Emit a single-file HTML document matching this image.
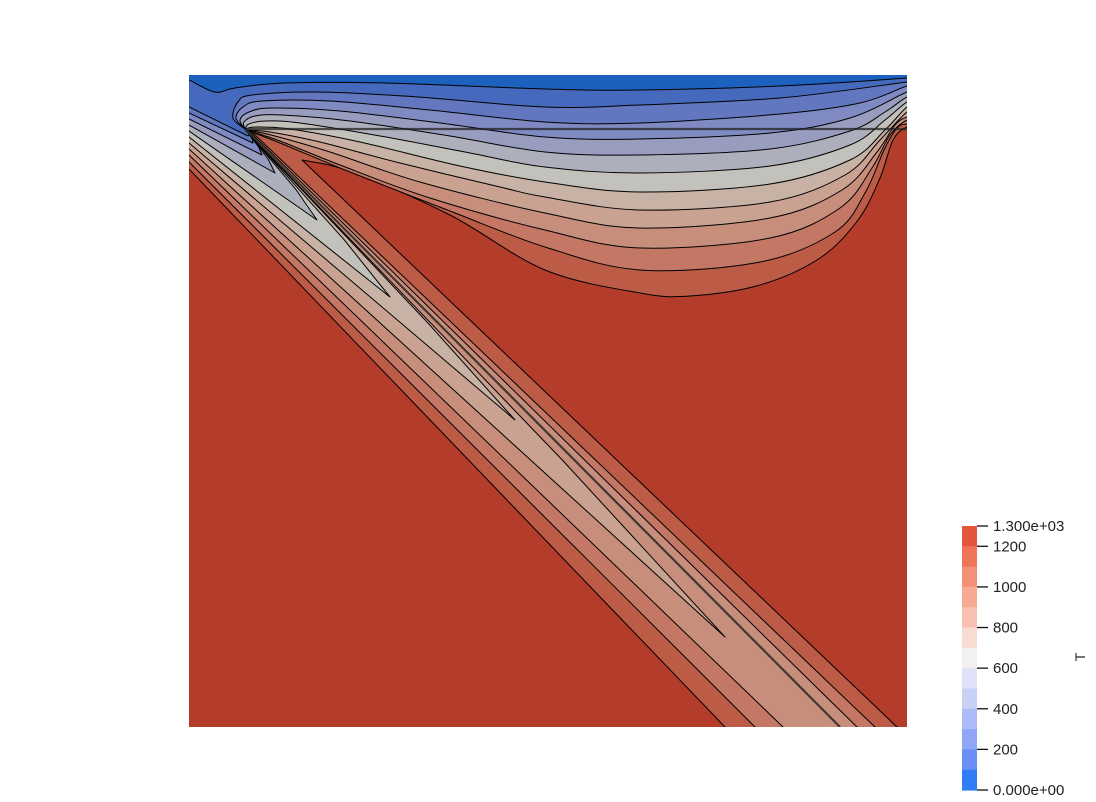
<!DOCTYPE html>
<html><head><meta charset="utf-8"><style>
html,body{margin:0;padding:0;background:#fff;}
svg{display:block;font-family:"Liberation Sans",sans-serif;}
</style></head><body>
<svg id="chart" width="1096" height="802" viewBox="0 0 1096 802">
<defs><clipPath id="plotclip"><rect x="189" y="75" width="718" height="652"/></clipPath></defs>
<rect x="189" y="75" width="718" height="652" fill="#b33c2a"/>
<g id="bands" clip-path="url(#plotclip)"></g>
<g id="lines" clip-path="url(#plotclip)">
<line x1="245" y1="129" x2="907" y2="129" stroke="#222" stroke-opacity="0.75" stroke-width="2.2"/>
<line x1="245" y1="129" x2="840" y2="727" stroke="#222" stroke-opacity="0.8" stroke-width="2.2"/>
</g>
<g id="colorbar"></g>
<text x="0" y="0" transform="translate(1085,657) rotate(-90)" font-size="14" fill="#222" text-anchor="middle">T</text>
</svg>
<script>
const bandColors=["#1b61bd","#4569bd","#6277bf","#7e8ac1","#989dc0","#aeafbd","#c3c1bb","#c8b2a6","#c9a292","#c78e7c","#c37764","#bc5c46","#b33c2a"];
const leftEdgeY=[null,null,107,113,119,125,131,137,143,149,155,162,169];
const fingerTips={2:[248,136],3:[253,143],4:[262,155],5:[275,173],6:[317,220],7:[390,297],8:[515,420],9:[725,637]};
const bottomLeftX={10:783,11:755,12:725};
const bottomRightX={10:857,11:875,12:897};
const rightTop={10:[249,131],11:[252,132],12:[302,160]};
const bowl={
1:[[180,78],[189,80],[215,92],[235,88],[285,83],[385,83],[545,89],[640,90],[780,86],[907,78],[920,76]],
2:[[245,129],[233,118],[238,102],[252,95],[318,92],[418,97],[545,107],[640,105],[780,98],[907,82],[920,81]],
3:[[245,129],[236,118],[243,107],[262,101],[330,101],[430,110],[545,122],[640,123],[780,114],[860,103],[907,86],[920,85]],
4:[[245,129],[240,120],[249,112],[272,108],[340,111],[440,123],[545,137],[640,139],[770,133],[850,118],[907,92],[920,90]],
5:[[245,129],[244,122],[255,116],[282,115],[350,121],[450,136],[545,152],[640,155],[770,149],[850,131],[885,112],[907,97],[920,95]],
6:[[245,129],[249,124],[265,121],[300,123],[380,136],[470,153],[545,167],[640,173],[770,166],[850,145],[885,120],[907,102],[920,100]],
7:[[245,129],[256,127],[290,129],[360,142],[460,166],[545,182],[640,192],[770,184],[850,160],[885,130],[907,107],[920,105]],
8:[[246,130],[270,132],[320,142],[400,163],[500,187],[545,197],[640,210],[770,202],[845,175],[880,140],[907,112],[920,110]],
9:[[247,130],[275,136],[330,152],[420,182],[545,213],[640,228],[770,218],[842,190],[877,152],[895,125],[907,117],[920,115]],
10:[[249,131],[280,141],[340,165],[430,198],[545,230],[640,248],[770,238],[840,208],[872,168],[890,135],[907,120],[920,119]],
11:[[252,132],[285,145],[350,172],[450,211],[545,247],[640,270],[760,262],[835,232],[865,193],[884,150],[897,128],[907,124],[920,123]],
12:[[302,160],[352,172],[450,215],[545,270],[640,293],[690,296],[760,285],[820,258],[858,220],[880,178],[893,140],[907,127],[920,126]]
};
const cbColors=["#e4553c","#ef7459","#f4907a","#f7a994","#f8c0b0","#f7dcd3","#f2f0f0","#dfe2f8","#c8d0f6","#adbcf8","#90a6f7","#6b8ff8","#2f7ef7"];
const cbTickValues=[1300,1200,1000,800,600,400,200,0];
const cbTickLabels=["1.300e+03","1200","1000","800","600","400","200","0.000e+00"];

const NS="http://www.w3.org/2000/svg";
function smooth(p){
  let s="";
  for(let i=0;i<p.length-1;i++){
    const p0=p[Math.max(0,i-1)],p1=p[i],p2=p[i+1],p3=p[Math.min(p.length-1,i+2)];
    const c1=[p1[0]+(p2[0]-p0[0])/6,p1[1]+(p2[1]-p0[1])/6];
    const c2=[p2[0]-(p3[0]-p1[0])/6,p2[1]-(p3[1]-p1[1])/6];
    s+=" C"+c1[0].toFixed(1)+","+c1[1].toFixed(1)+" "+c2[0].toFixed(1)+","+c2[1].toFixed(1)+" "+p2[0]+","+p2[1];
  }
  return s;
}
function lineX(y){return 245+(y-129)*0.995;}
const gB=document.getElementById("bands");
for(let k=12;k>=1;k--){
  let d="";
  if(k===1){
    d="M175,60 L175,78 L180,78"+smooth(bowl[1]);
  } else {
    const L=leftEdgeY[k];
    d="M175,"+(L-13)+" L189,"+L;
    if(k>=10){
      const xb=bottomLeftX[k],xr=bottomRightX[k],rt=rightTop[k];
      d+=" L"+xb+",727 L"+(xb+13)+",740 L"+(xr+13)+",740 L"+xr+",727 L"+rt[0]+","+rt[1];
    } else {
      const t=fingerTips[k];
      const span=t[1]-133;
      const y2=t[1]-span*0.35;
      const off=Math.min(12,(lineX(t[1])-t[0])*0.5);
      d+=" L"+t[0]+","+t[1]+" L"+(lineX(y2)-off).toFixed(1)+","+y2.toFixed(1)+" L"+(lineX(134)-1).toFixed(1)+",134 L246,130";
    }
    const b=bowl[k];
    d+=" L"+b[0][0]+","+b[0][1]+smooth(b);
  }
  d+=" L920,60 L175,60 Z";
  const p=document.createElementNS(NS,"path");
  p.setAttribute("d",d);
  p.setAttribute("fill",bandColors[k-1]);
  p.setAttribute("stroke","#000");
  p.setAttribute("stroke-width","1");
  p.setAttribute("stroke-linejoin","round");
  
  
  gB.appendChild(p);
}
// colorbar
const gC=document.getElementById("colorbar");
const cbTop=526,cbBot=790,cbX=962,cbW=15,vmax=1300;
const bh=(cbBot-cbTop)/cbColors.length;
cbColors.forEach((c,i)=>{
  const r=document.createElementNS(NS,"rect");
  r.setAttribute("x",cbX);r.setAttribute("y",(cbTop+i*bh).toFixed(2));
  r.setAttribute("width",cbW);r.setAttribute("height",(bh+0.6).toFixed(2));
  r.setAttribute("fill",c);
  
  
  gC.appendChild(r);
});
function cbY(v){return cbBot-v/vmax*(cbBot-cbTop);}
cbTickValues.forEach((v,i)=>{
  const y=cbY(v);
  const l=document.createElementNS(NS,"line");
  l.setAttribute("x1",cbX+cbW);l.setAttribute("x2",cbX+cbW+11);
  l.setAttribute("y1",y);l.setAttribute("y2",y);
  l.setAttribute("stroke","#111");l.setAttribute("stroke-width","1.3");
  
  
  gC.appendChild(l);
  const t=document.createElementNS(NS,"text");
  t.setAttribute("x",cbX+cbW+16);t.setAttribute("y",y+5);
  t.setAttribute("font-size","15");t.setAttribute("fill","#222");
  t.textContent=cbTickLabels[i];
  
  
  gC.appendChild(t);
});
</script>
</body></html>
